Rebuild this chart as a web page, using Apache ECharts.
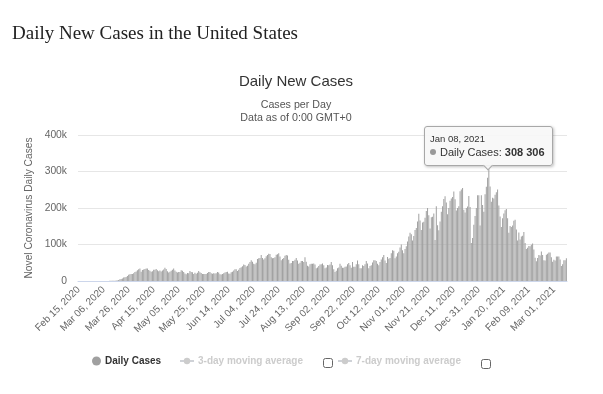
<!DOCTYPE html>
<html>
<head>
<meta charset="utf-8">
<script src="https://cdn.jsdelivr.net/npm/echarts@6/dist/echarts.min.js"></script>
<style>
html,body{margin:0;padding:0;background:#fff;}
#chart{width:603px;height:394px;}
</style>
</head>
<body>
<div id="chart"></div>
<script>
// ---- Data (daily new cases) ----
var startDate = '2020-02-15';
var feb2020 = [0,0,0,0,0,0,1,5,0,0,0,2,0,3,6];
var mar2020 = [25,20,27,30,70,80,100,120,180,280,400,460,600,640,1000,1300,1700,2900,4500,5600,6800,9300,10100,11300,13500,17400,18800,19500,19300,21000,24500];
var apr2020 = [26000,29500,32000,34000,25500,30000,31500,33000,34500,34000,30000,28000,25500,27000,30500,31000,33000,29500,26500,28500,26000,29000,31500,36000,33000,26500,23500,25500,28000,30500];
var may2020 = [34000,29000,25500,23000,24500,25000,29500,28000,25000,20500,18500,22000,21500,27500,25000,24000,19500,22500,20000,22500,27500,24000,22000,19500,19000,19500,19500,22000,24500,25000,21000];
var jun2020 = [20000,21000,20500,21500,24500,23000,18500,17500,19000,21500,23000,25000,25500,20500,20000,24000,25500,28500,32000,32500,27500,30500,35500,38000,40500,45000,43500,40000,42000,47500];
var jul2020 = [52000,57000,53000,47000,46000,50000,60000,62000,63000,71000,63000,59000,62000,68000,71000,75000,74000,65000,62000,63000,65000,72000,73000,76000,67000,57000,60000,63000,69000,71000,70000];
var aug2020 = [58000,48000,49000,55000,55000,58000,63000,56000,47000,50000,55000,55000,52000,65000,53000,42000,40000,46000,47000,47000,48000,45000,35000,37000,41000,45000,46000,48000,43000,35000,37000];
var sep2020 = [44000,43000,45000,52000,43000,32000,25000,28000,35000,37000,47000,42000,36000,36000,39000,40000,46000,49000,43000,36000,52000,39000,39000,46000,56000,46000,35000,35000,43000,41000];
var oct2020 = [46000,55000,48000,35000,41000,43000,51000,57000,57000,55000,47000,43000,52000,59000,65000,71000,56000,49000,66000,61000,63000,76000,84000,83000,62000,67000,76000,80000,92000,100000,84000];
var nov2020 = [76000,88000,95000,108000,122000,132000,128000,111000,123000,140000,145000,163000,184000,166000,140000,160000,162000,173000,192000,200000,180000,144000,175000,176000,185000,112000,205000,153000,139000,163000];
var dec2020 = [190000,205000,225000,232000,215000,183000,200000,220000,226000,230000,245000,224000,193000,200000,205000,246000,251000,255000,195000,188000,200000,204000,233000,203000,104000,118000,154000,178000,200000,235000,235000];
var jan2021 = [152000,235000,208000,190000,238000,258000,283000,308306,259000,217000,228000,226000,236000,243000,251000,207000,177000,148000,172000,185000,194000,197000,172000,132000,151000,148000,152000,165000,168000,141000,111000];
var feb2021 = [133000,114000,122000,124000,134000,104000,88000,91000,96000,95000,99000,103000,86000,64000,54000,63000,71000,70000,81000,71000,57000,56000,72000,75000,78000,78000,65000,53000];
var mar2021 = [58000,56000,67000,67000,67000,59000,41000,46000,57000,57000,62000];

var dailyCases = [].concat(feb2020, mar2020, apr2020, may2020, jun2020, jul2020, aug2020, sep2020, oct2020, nov2020, dec2020, jan2021, feb2021, mar2021);
var yTicks = [0, 100000, 200000, 300000, 400000];
var highlightDate = 'Jan 08, 2021';

// ---- Categories (one per day) ----
var monthNames = ['Jan','Feb','Mar','Apr','May','Jun','Jul','Aug','Sep','Oct','Nov','Dec'];
var categories = [];
(function () {
  var p = startDate.split('-');
  var d = new Date(Date.UTC(+p[0], +p[1] - 1, +p[2]));
  for (var i = 0; i < dailyCases.length; i++) {
    var dd = d.getUTCDate();
    categories.push(monthNames[d.getUTCMonth()] + ' ' + (dd < 10 ? '0' + dd : dd) + ', ' + d.getUTCFullYear());
    d.setUTCDate(d.getUTCDate() + 1);
  }
})();

function fmtSpace(v) { return String(v).replace(/\B(?=(\d{3})+(?!\d))/g, ' '); }

var FONT = '"Liberation Sans", Arial, sans-serif';
var chart = echarts.init(document.getElementById('chart'), null, {renderer: 'canvas'});

chart.setOption({
  animation: false,
  backgroundColor: '#fff',
  title: [
    {text: 'Daily New Cases in the United States', left: 12, top: 25, padding: 0,
     textStyle: {fontFamily: '"Liberation Serif", "Times New Roman", serif', fontSize: 19, fontWeight: 'normal', color: '#222'}},
    {text: 'Daily New Cases', left: 296, top: 74, padding: 0, textAlign: 'center',
     textStyle: {fontFamily: FONT, fontSize: 15, fontWeight: 'normal', color: '#333'}},
    {text: 'Cases per Day\nData as of 0:00 GMT+0', left: 296, top: 99, padding: 0, textAlign: 'center',
     textStyle: {fontFamily: FONT, fontSize: 10.7, fontWeight: 'normal', color: '#555', lineHeight: 12.5}}
  ],
  grid: {left: 78, right: 36, top: 135, bottom: 113, containLabel: false},
  xAxis: {
    type: 'category',
    data: categories,
    axisLine: {lineStyle: {color: '#ccd6eb'}},
    axisTick: {show: false},
    axisLabel: {interval: 19, rotate: 45, fontSize: 10, color: '#666', fontFamily: FONT, margin: 7}
  },
  yAxis: {
    type: 'value',
    min: yTicks[0], max: yTicks[yTicks.length - 1], interval: yTicks[1] - yTicks[0],
    name: 'Novel Coronavirus Daily Cases',
    nameLocation: 'middle', nameGap: 36,
    nameTextStyle: {fontFamily: FONT, fontSize: 10.2, color: '#666'},
    axisLine: {show: false}, axisTick: {show: false},
    splitLine: {lineStyle: {color: '#e6e6e6'}},
    axisLabel: {fontFamily: FONT, fontSize: 10.3, color: '#666', margin: 11,
      formatter: function (v) { return v === 0 ? '0' : (v / 1000) + 'k'; }}
  },
  legend: [
    {data: ['Daily Cases'], left: 92, top: 356, padding: 0, icon: 'circle', itemWidth: 9, itemHeight: 9, itemGap: 0,
     textStyle: {fontFamily: FONT, fontSize: 10, fontWeight: 'bold', color: '#333', padding: [0, 0, 0, -1]}},
    {data: ['3-day moving average'], left: 179, top: 356, padding: 0, itemWidth: 14, itemHeight: 8,
     selected: {'3-day moving average': false}, inactiveColor: '#ccc', inactiveBorderColor: '#ccc',
     textStyle: {fontFamily: FONT, fontSize: 10, fontWeight: 'bold', color: '#333', padding: [0, 0, 0, -1]}},
    {data: ['7-day moving average'], left: 337, top: 356, padding: 0, itemWidth: 14, itemHeight: 8,
     selected: {'7-day moving average': false}, inactiveColor: '#ccc', inactiveBorderColor: '#ccc',
     textStyle: {fontFamily: FONT, fontSize: 10, fontWeight: 'bold', color: '#333', padding: [0, 0, 0, -1]}}
  ],
  tooltip: {
    trigger: 'item',
    triggerOn: 'none',
    alwaysShowContent: true,
    position: 'top',
    backgroundColor: 'rgba(247,247,247,0.9)',
    borderColor: '#a8a8a8',
    borderWidth: 1,
    padding: [5, 7, 5, 5],
    extraCssText: 'box-shadow:1px 1px 3px rgba(0,0,0,0.25);border-radius:3px;margin-top:8px;',
    textStyle: {fontFamily: FONT, fontSize: 11, color: '#333'},
    formatter: function (p) {
      return '<div style="font-size:9.5px;line-height:13px;color:#333">' + p.name + '</div>' +
        '<div style="font-size:11px;line-height:15px;color:#333">' +
        '<span style="display:inline-block;width:6px;height:6px;border-radius:3px;background:#999;margin-right:4px;vertical-align:1px"></span>' +
        p.seriesName + ': <b>' + fmtSpace(p.value) + '</b></div>';
    }
  },
  graphic: [
    {type: 'rect', left: 323, top: 358, shape: {width: 9, height: 9, r: 2}, style: {fill: '#fff', stroke: '#666', lineWidth: 1}},
    {type: 'rect', left: 481, top: 359, shape: {width: 9, height: 9, r: 2}, style: {fill: '#fff', stroke: '#666', lineWidth: 1}}
  ],
  series: [
    {name: 'Daily Cases', type: 'bar', data: dailyCases, itemStyle: {color: '#a0a0a0'}, barCategoryGap: '20%'},
    {name: '3-day moving average', type: 'line', data: [], itemStyle: {color: '#888'}, symbol: 'circle'},
    {name: '7-day moving average', type: 'line', data: [], itemStyle: {color: '#888'}, symbol: 'circle'}
  ]
});

chart.dispatchAction({type: 'showTip', seriesIndex: 0, dataIndex: categories.indexOf(highlightDate)});
</script>
</body>
</html>
